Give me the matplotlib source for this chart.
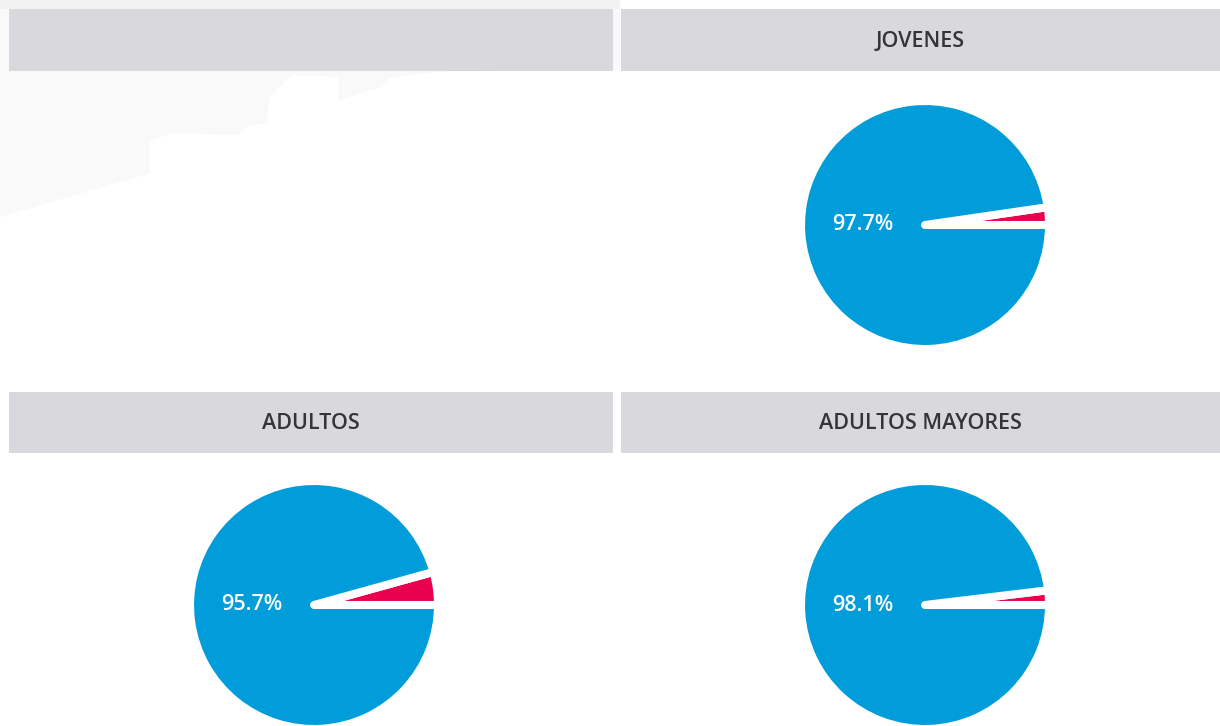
import matplotlib as mpl
mpl.use('Agg')
import matplotlib.pyplot as plt
from matplotlib.patches import Polygon, Rectangle

# data
titles = ['', 'JOVENES', 'ADULTOS', 'ADULTOS MAYORES']
si_pct = [None, 97.7, 95.7, 98.1]   # blue share (%)
no_pct = [None, 2.3, 4.3, 1.9]      # red share (%)

blue = '#019ddb'
red = '#e9004f'
head_gray = '#d9d9dd'
txt_gray = '#3d3d3f'

W, H = 1220, 726
fig = plt.figure(figsize=(W / 100, H / 100), dpi=100)
fig.patch.set_facecolor('white')

# faint background silhouette, top-left
bg = fig.add_axes([0, 0, 1, 1], zorder=0)
bg.set_xlim(0, W)
bg.set_ylim(H, 0)
bg.axis('off')
shape = [(0, 0), (620, 0), (620, 70), (435, 72), (389, 78), (379, 88), (338, 100),
         (338, 77), (292, 75), (269, 97), (267, 123), (245, 127), (237, 135),
         (174, 133), (150, 140), (150, 173), (0, 217)]
bg.add_patch(Polygon(shape, closed=True, facecolor='#f9f9f9', edgecolor='none'))
bg.add_patch(Rectangle((0, 0), 620, 9, facecolor='#f2f2f2', edgecolor='none'))

# header bars (x0, x1, y0, y1) in pixels
headers = [(9, 613, 9, 71), (621, 1220, 9, 71), (9, 613, 392, 453), (621, 1220, 392, 453)]
# pie centres in pixels
centres = [None, (925, 225), (314, 605), (925, 605)]
R = 124  # pie radius incl. white outline

for i, t in enumerate(titles):
    x0, x1, y0, y1 = headers[i]
    hax = fig.add_axes([x0 / W, 1 - y1 / H, (x1 - x0) / W, (y1 - y0) / H], zorder=1)
    hax.set_facecolor(head_gray)
    hax.set_xticks([])
    hax.set_yticks([])
    for s in hax.spines.values():
        s.set_visible(False)
    if t:
        hax.text(0.5, 0.48, t, ha='center', va='center', fontsize=15.5,
                 fontweight='semibold', family='Open Sans', color='#353537',
                 transform=hax.transAxes)

    if centres[i] is None:
        continue
    cx, cy = centres[i]
    pax = fig.add_axes([(cx - R) / W, 1 - (cy + R) / H, 2 * R / W, 2 * R / H], zorder=2)
    pax.pie([no_pct[i], si_pct[i]], colors=[red, blue], startangle=0, counterclock=True,
            radius=1, wedgeprops=dict(edgecolor='white', linewidth=5.8, joinstyle='round'))
    pax.set_xlim(-1, 1)
    pax.set_ylim(-1, 1)
    pax.set_aspect('equal')
    pax.axis('off')
    pax.text(-0.5, 0.0, f'{si_pct[i]:.1f}%', ha='center', va='center', color='white',
             fontsize=15.5, family='Open Sans', fontweight='semibold')

plt.savefig('out.png', dpi=100)
